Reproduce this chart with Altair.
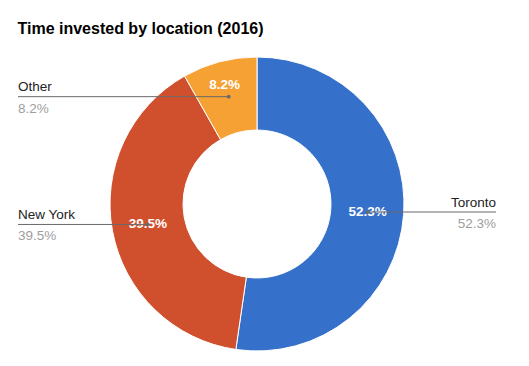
import altair as alt
import pandas as pd

# ---- data ----
locations = ["Toronto", "New York", "Other"]
shares = [52.3, 39.5, 8.2]
colors = ["#3570CB", "#D0502D", "#F5A133"]

df = pd.DataFrame({"location": locations, "share": shares, "idx": list(range(len(locations)))})

# ---- layout (plot-area pixels) ----
CX, CY = 239, 160
R_OUT, R_IN, R_LAB = 147, 74, 111
LEFT_X, RIGHT_X = 0, 478
FONT = "Liberation Sans, Arial, sans-serif"
LINE = "#6a6a6a"

base = (
    alt.Chart(df)
    .transform_joinaggregate(total="sum(share)")
    .transform_window(cum="sum(share)", sort=[alt.SortField("idx")], frame=[None, 0])
    .transform_calculate(
        mid="(datum.cum - datum.share / 2) / datum.total * 2 * PI",
        pct="format(datum.share / datum.total, '.1%')",
    )
    .transform_calculate(
        px=f"{CX} + {R_LAB} * sin(datum.mid)",
        py=f"{CY} - {R_LAB} * cos(datum.mid)",
        lx=f"datum.mid < PI ? {RIGHT_X} : {LEFT_X}",
        side="datum.mid < PI ? 'right' : 'left'",
    )
    .transform_calculate(
        tx="datum.px + (datum.share / datum.total < 0.1 ? -4 : 0)",
        ty="datum.py + (datum.share / datum.total < 0.1 ? -12 : 0)",
        ny="datum.py - 5.5",
        vy="datum.py + 16",
    )
)

X = lambda f: alt.X(f + ":Q", scale=None, axis=None)
Y = lambda f: alt.Y(f + ":Q", scale=None, axis=None)

arcs = base.mark_arc(innerRadius=R_IN, outerRadius=R_OUT, stroke="white", strokeWidth=1).encode(
    theta=alt.Theta("share:Q", stack=True),
    color=alt.Color("location:N", scale=alt.Scale(domain=locations, range=colors), legend=None),
    order=alt.Order("idx:Q"),
    x=alt.value(CX),
    y=alt.value(CY),
)

inner = base.mark_text(font=FONT, fontSize=13.5, fontWeight="bold", color="white",
                       align="center", baseline="middle").encode(
    x=X("tx"), y=Y("ty"), text="pct:N"
)

rules = base.mark_rule(color=LINE, strokeWidth=1).encode(
    x=X("px"), x2="lx:Q", y=Y("py")
)

dots = base.mark_circle(color=LINE, size=14, opacity=1).encode(x=X("px"), y=Y("py"))

layers = [arcs, inner, rules, dots]
for side in ["left", "right"]:
    b = base.transform_filter(f"datum.side == '{side}'")
    layers.append(
        b.mark_text(font=FONT, fontSize=13.5, color="#222222", align=side, baseline="alphabetic")
        .encode(x=X("lx"), y=Y("ny"), text="location:N")
    )
    layers.append(
        b.mark_text(font=FONT, fontSize=13.5, color="#9e9e9e", align=side, baseline="alphabetic")
        .encode(x=X("lx"), y=Y("vy"), text="pct:N")
    )

chart = (
    alt.layer(*layers)
    .properties(
        width=490,
        height=312,
        title=alt.Title("Time invested by location (2016)", anchor="start", font=FONT,
                        fontSize=16, fontWeight="bold", color="#000000", offset=13,
                        baseline="alphabetic", dy=19),
        autosize=alt.AutoSizeParams(type="none"),
        padding={"left": 10, "top": 36, "right": 0, "bottom": 0},
    )
    .configure_view(stroke=None)
)

chart.save("out.html", embed_options={"renderer": "svg", "actions": False})
